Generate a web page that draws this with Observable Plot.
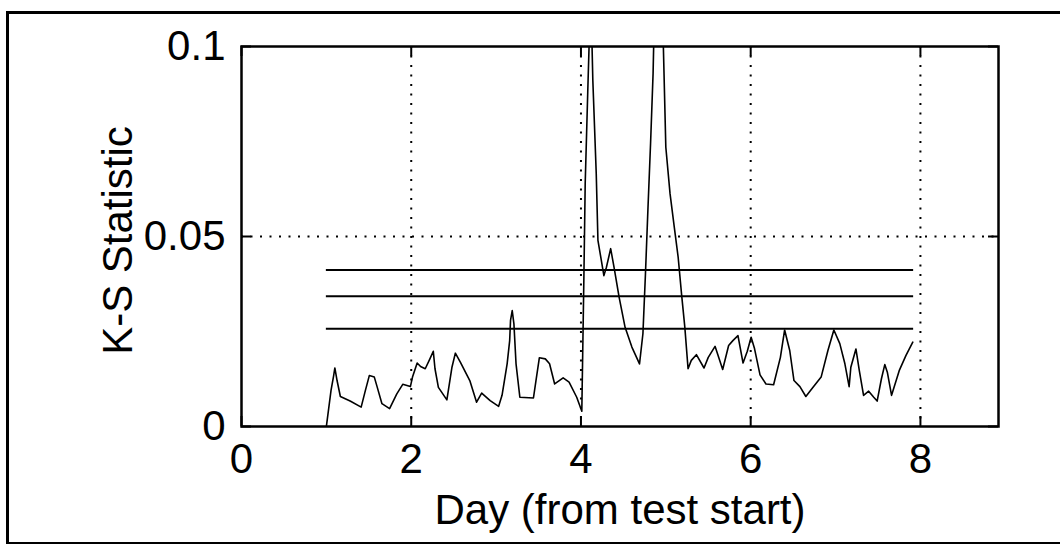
<!DOCTYPE html>
<html><head><meta charset="utf-8">
<script src="https://cdn.jsdelivr.net/npm/d3@7"></script>
<script src="https://cdn.jsdelivr.net/npm/@observablehq/plot@0.6"></script>
<style>
html,body{margin:0;padding:0;background:#fff;overflow:hidden;width:1060px;height:544px;}
#border{position:absolute;left:6px;top:11px;width:1060px;height:528px;border-left:3px solid #000;border-top:3px solid #000;border-bottom:3px solid #000;}
#chart{position:absolute;left:0;top:0;}
</style></head><body>
<div id="border"></div><div id="chart"></div>
<script>
// Day (from test start)
const days = [
  1.0, 1.055, 1.086, 1.10, 1.126, 1.165, 1.28, 1.41, 1.46, 1.506, 1.565, 1.60, 1.655, 1.745, 1.83, 1.90, 1.99,
  2.015, 2.07, 2.11, 2.165, 2.22, 2.26, 2.28, 2.32, 2.42, 2.48, 2.52, 2.58, 2.69, 2.77, 2.83, 2.93,
  3.03, 3.07, 3.13, 3.16, 3.17, 3.19, 3.21, 3.235, 3.28, 3.44, 3.47, 3.51, 3.58, 3.63, 3.69, 3.79, 3.86, 3.95,
  4.01, 4.035, 4.05, 4.08, 4.115, 4.14, 4.18, 4.20, 4.24, 4.27, 4.30, 4.35, 4.39, 4.45, 4.52, 4.60, 4.69, 4.73, 4.76, 4.79, 4.82, 4.85, 4.88, 4.93, 4.96,
  5.0, 5.05, 5.10, 5.145, 5.185, 5.224, 5.262, 5.30, 5.36, 5.45, 5.50, 5.58, 5.67, 5.74, 5.79, 5.85, 5.91, 5.96,
  6.005, 6.045, 6.11, 6.18, 6.27, 6.35, 6.40, 6.46, 6.51, 6.58, 6.65, 6.73, 6.83, 6.91, 6.98,
  7.05, 7.11, 7.16, 7.18, 7.24, 7.28, 7.33, 7.39, 7.45, 7.49, 7.54, 7.58, 7.61, 7.66, 7.75, 7.83, 7.91
];
// K-S statistic
const ks = [
  0, 0.0095, 0.0134, 0.0154, 0.0121, 0.0079, 0.0067, 0.0051, 0.0095, 0.0134, 0.0130, 0.0103, 0.0060, 0.0047, 0.0086, 0.0111, 0.0105,
  0.0130, 0.0167, 0.0158, 0.0152, 0.0178, 0.0198, 0.0152, 0.0103, 0.0070, 0.0156, 0.0193, 0.0169, 0.0121, 0.0064, 0.0088, 0.0068,
  0.0053, 0.0082, 0.0165, 0.0226, 0.0279, 0.0305, 0.0270, 0.0165, 0.0077, 0.0075, 0.0121, 0.0181, 0.0178, 0.0165, 0.0112, 0.0128, 0.0117, 0.0077,
  0.0040, 0.0400, 0.0640, 0.0880, 0.1150, 0.0910, 0.0666, 0.0490, 0.0437, 0.0397, 0.0419, 0.0468, 0.0419, 0.0340, 0.0261, 0.0209, 0.0165, 0.0244, 0.0402, 0.0577, 0.0744, 0.0930, 0.1250, 0.1300, 0.1100,
  0.0735, 0.0612, 0.0524, 0.0446, 0.0349, 0.0261, 0.0152, 0.0174, 0.0189, 0.0154, 0.0182, 0.0211, 0.0150, 0.0213, 0.0226, 0.0239, 0.0167, 0.0198,
  0.0235, 0.0205, 0.0136, 0.0112, 0.0110, 0.0182, 0.0254, 0.0200, 0.0121, 0.0105, 0.0079, 0.0102, 0.0130, 0.0200, 0.0254,
  0.0218, 0.0165, 0.0105, 0.0156, 0.0204, 0.0147, 0.0082, 0.0093, 0.0077, 0.0067, 0.0125, 0.0163, 0.0143, 0.0082, 0.0147, 0.0187, 0.0222
];
const thresholds = [0.0412, 0.0343, 0.0257];
const thresholdStart = 1.0;
const thresholdEnd = 7.92;
const xTicks = [0, 2, 4, 6, 8];
const xGrid = [2, 4, 6, 8];
const yTicks = [0, 0.05, 0.1];
const yTickLabels = ["0", "0.05", "0.1"];
const yGrid = [0.05];
const xLabel = "Day (from test start)";
const yLabel = "K-S Statistic";

const series = days.map((d, i) => ({day: d, ks: ks[i]}));

const W = 1060, H = 544;
const mL = 241, mR = 62, mT = 46, mB = 118;
const innerW = W - mL - mR, innerH = H - mT - mB;
const tickLen = 10;

const chart = Plot.plot({
  width: W, height: H,
  marginLeft: mL, marginRight: mR, marginTop: mT, marginBottom: mB,
  style: {fontFamily: "'Liberation Sans', Arial, sans-serif", fontSize: "42px", color: "black", background: "transparent"},
  x: {domain: [0, 8.92], ticks: xTicks, tickSize: 0, tickPadding: 17, label: null, tickFormat: d => String(d)},
  y: {domain: [0, 0.1], ticks: yTicks, tickSize: 0, tickPadding: 16, label: null, tickFormat: d => yTickLabels[yTicks.indexOf(d)]},
  marks: [
    Plot.ruleX(xGrid, {stroke: "black", strokeWidth: 2, strokeDasharray: "2,7.5"}),
    Plot.ruleY(yGrid, {stroke: "black", strokeWidth: 2, strokeDasharray: "2,7.5"}),
    Plot.ruleX(xTicks, {stroke: "black", strokeWidth: 2, insetTop: innerH - tickLen}),
    Plot.ruleX(xTicks, {stroke: "black", strokeWidth: 2, insetBottom: innerH - tickLen}),
    Plot.ruleY(yTicks, {stroke: "black", strokeWidth: 2, insetRight: innerW - tickLen}),
    Plot.ruleY(yTicks, {stroke: "black", strokeWidth: 2, insetLeft: innerW - tickLen}),
    Plot.ruleY(thresholds, {x1: thresholdStart, x2: thresholdEnd, stroke: "black", strokeWidth: 2}),
    Plot.line(series, {x: "day", y: "ks", stroke: "black", strokeWidth: 1.6, clip: true}),
    Plot.frame({stroke: "black", strokeWidth: 2.5}),
    Plot.text([xLabel], {text: d => d, frameAnchor: "bottom", textAnchor: "middle", dy: 97, fontSize: 42}),
    Plot.text([yLabel], {text: d => d, frameAnchor: "left", textAnchor: "middle", rotate: -90, dx: -123, dy: 4, fontSize: 42})
  ]
});
document.getElementById("chart").appendChild(chart);
</script>
</body></html>
